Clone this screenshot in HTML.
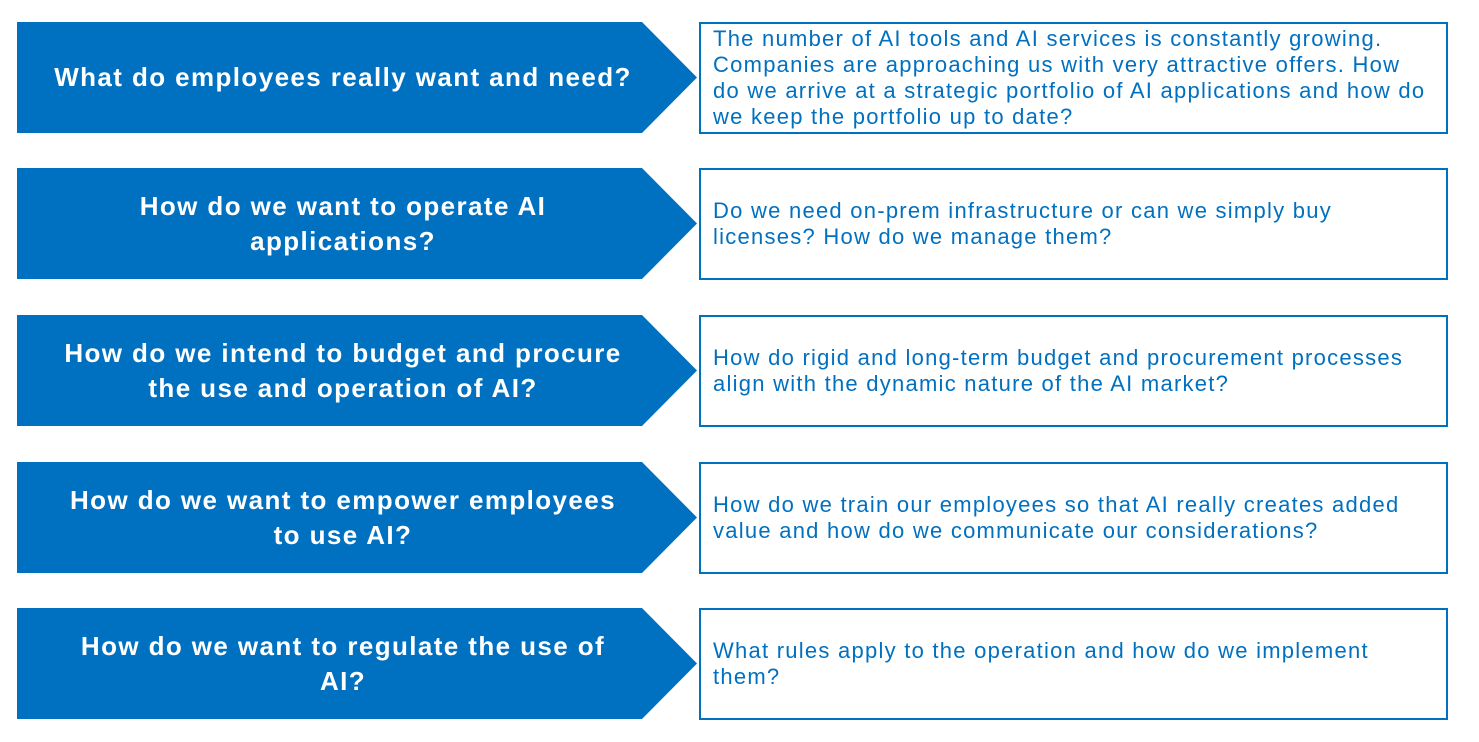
<!DOCTYPE html>
<html><head><meta charset="utf-8"><style>
body{margin:0;width:1479px;height:742px;background:#fff;position:relative;overflow:hidden;font-family:"Liberation Sans",sans-serif}
.a{position:absolute;left:17px;width:680px;height:111px;background:#0070C0;clip-path:polygon(0 0,625px 0,680px 50%,625px 100%,0 100%)}
.a div{position:absolute;left:0;width:652px;top:0;height:111px;display:flex;align-items:center;justify-content:center;text-align:center;color:#fff;font-weight:bold;font-size:26px;line-height:35px;letter-spacing:1.4px}
.b{position:absolute;left:699px;width:745px;height:108px;border:2.5px solid #0070C0;display:flex;align-items:center;box-sizing:content-box}
.b div{padding-left:12px;color:#0070C0;font-size:22px;line-height:26px;letter-spacing:1.25px;white-space:nowrap}
</style></head><body>
<div class="a" style="top:22px"><div>What do employees really want and need?</div></div>
<div class="b" style="top:22px"><div>The number of AI tools and AI services is constantly growing.<br>Companies are approaching us with very attractive offers. How<br>do we arrive at a strategic portfolio of AI applications and how do<br>we keep the portfolio up to date?</div></div>
<div class="a" style="top:168px"><div>How do we want to operate AI<br>applications?</div></div>
<div class="b" style="top:168px"><div>Do we need on-prem infrastructure or can we simply buy<br>licenses? How do we manage them?</div></div>
<div class="a" style="top:315px"><div>How do we intend to budget and procure<br>the use and operation of AI?</div></div>
<div class="b" style="top:315px"><div>How do rigid and long-term budget and procurement processes<br>align with the dynamic nature of the AI market?</div></div>
<div class="a" style="top:462px"><div>How do we want to empower employees<br>to use AI?</div></div>
<div class="b" style="top:462px"><div>How do we train our employees so that AI really creates added<br>value and how do we communicate our considerations?</div></div>
<div class="a" style="top:608px"><div>How do we want to regulate the use of<br>AI?</div></div>
<div class="b" style="top:608px"><div>What rules apply to the operation and how do we implement<br>them?</div></div>
</body></html>
